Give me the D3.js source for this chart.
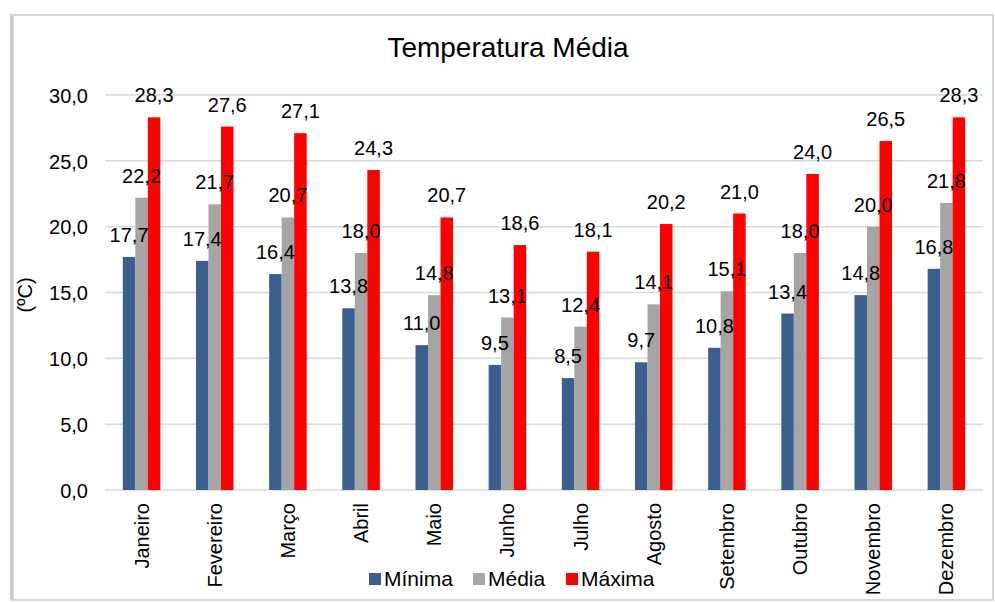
<!DOCTYPE html>
<html><head><meta charset="utf-8">
<script src="https://cdn.jsdelivr.net/npm/d3@7"></script>
<style>body{margin:0;background:#fff;font-family:"Liberation Sans",Arial,sans-serif;}</style>
</head><body><svg id="c" width="995" height="603"></svg>
<script>
const months = ["Janeiro","Fevereiro","Março","Abril","Maio","Junho","Julho","Agosto","Setembro","Outubro","Novembro","Dezembro"];
const minima = [17.7,17.4,16.4,13.8,11.0,9.5,8.5,9.7,10.8,13.4,14.8,16.8];
const media  = [22.2,21.7,20.7,18.0,14.8,13.1,12.4,14.1,15.1,18.0,20.0,21.8];
const maxima = [28.3,27.6,27.1,24.3,20.7,18.6,18.1,20.2,21.0,24.0,26.5,28.3];
const seriesNames = ["Mínima","Média","Máxima"];
const colors = ["#3A5F8E","#A5A5A5","#FF0000"];
const yTicks = [0,5,10,15,20,25,30];

const svg = d3.select("#c");
const fmt = v => v.toFixed(1).replace(".", ",");
// frame
svg.append("rect").attr("x",11).attr("y",15).attr("width",982).attr("height",585)
  .attr("fill","#fff").attr("stroke","#d6d6d6").attr("stroke-width",2);
svg.append("line").attr("x1",12).attr("x2",12).attr("y1",16).attr("y2",599).attr("stroke","#c8c8c8").attr("stroke-width",3);

const x = d3.scaleBand().domain(months).range([105,983]);
const y = d3.scaleLinear().domain([0,30]).range([490,95]);
const xs = d3.scaleBand().domain([0,1,2]).range([0,37.5]);
const off = (x.bandwidth()-37.5)/2;

// grid
svg.append("g").selectAll("line").data(yTicks).join("line")
  .attr("x1",105).attr("x2",983).attr("y1",d=>y(d)).attr("y2",d=>y(d))
  .attr("stroke","#d9d9d9").attr("stroke-width",1.5);

const yAxis = svg.append("g").attr("transform","translate(88,0)")
  .call(d3.axisLeft(y).tickValues(yTicks).tickFormat(fmt).tickSize(0).tickPadding(0));
yAxis.select(".domain").remove();
yAxis.selectAll("text").attr("font-size",20).attr("font-family","Liberation Sans, Arial").attr("fill","#000").attr("dy","0.36em");

const data = [minima,media,maxima];
data.forEach((arr,si)=>{
  const g = svg.append("g");
  g.selectAll("rect").data(arr).join("rect")
    .attr("x",(d,i)=>x(months[i])+off+xs(si))
    .attr("width",xs.bandwidth())
    .attr("y",d=>y(d)).attr("height",d=>y(0)-y(d))
    .attr("fill",colors[si]);
});
data.forEach((arr,si)=>{
  svg.append("g").selectAll("text").data(arr).join("text")
    .attr("x",(d,i)=>x(months[i])+off+xs(si)+xs.bandwidth()/2)
    .attr("y",d=>y(d)-15)
    .attr("text-anchor","middle").attr("font-size",20).attr("fill","#000")
    .text(fmt);
});

// x axis labels
svg.append("g").selectAll("text").data(months).join("text")
  .attr("transform",d=>`translate(${x(d)+x.bandwidth()/2+7},503) rotate(-90)`)
  .attr("text-anchor","end").attr("font-size",20).attr("fill","#000").text(d=>d);

// title
svg.append("text").attr("x",508).attr("y",57).attr("text-anchor","middle")
  .attr("font-size",28).attr("fill","#000").text("Temperatura Média");
svg.append("text").attr("transform","translate(32,295) rotate(-90)").attr("text-anchor","middle")
  .attr("font-size",20).attr("fill","#000").text("(ºC)");

// legend
const lx = [369,473,566];
seriesNames.forEach((n,i)=>{
  svg.append("rect").attr("x",lx[i]).attr("y",573).attr("width",12).attr("height",12).attr("fill",colors[i]);
  svg.append("text").attr("x",lx[i]+15).attr("y",586).attr("font-size",21).attr("fill","#000").text(n);
});
</script></body></html>
